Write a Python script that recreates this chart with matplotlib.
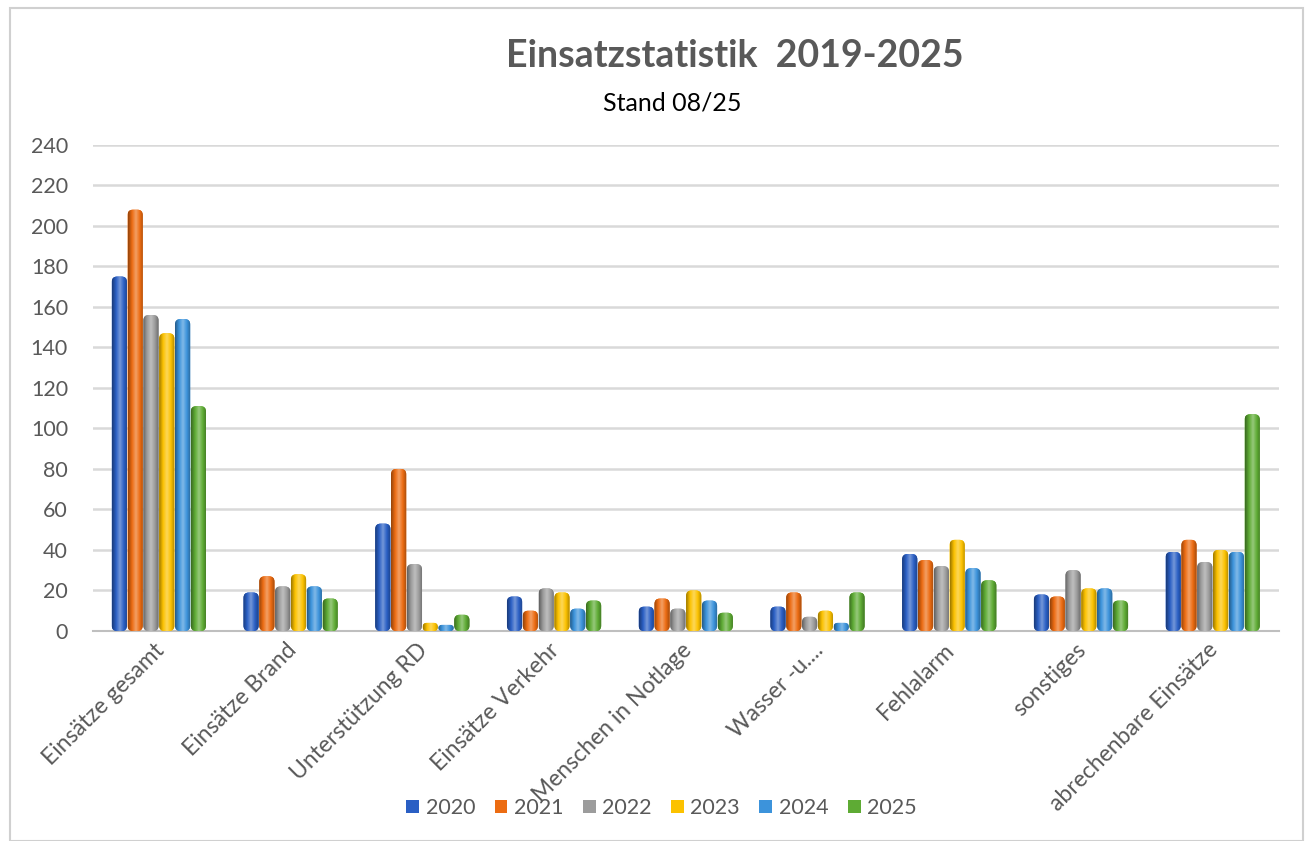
import numpy as np
import matplotlib.pyplot as plt
from matplotlib.colors import LinearSegmentedColormap, to_rgb
from matplotlib.patches import Rectangle, FancyBboxPatch, Patch

categories = ["Einsätze gesamt", "Einsätze Brand", "Unterstützung RD", "Einsätze Verkehr",
              "Menschen in Notlage", "Wasser -u....", "Fehlalarm", "sonstiges",
              "abrechenbare Einsätze"]
years = ["2020", "2021", "2022", "2023", "2024", "2025"]
v2020 = [175, 19, 53, 17, 12, 12, 38, 18, 39]
v2021 = [208, 27, 80, 10, 16, 19, 35, 17, 45]
v2022 = [156, 22, 33, 21, 11, 7, 32, 30, 34]
v2023 = [147, 28, 4, 19, 20, 10, 45, 21, 40]
v2024 = [154, 22, 3, 11, 15, 4, 31, 21, 39]
v2025 = [111, 16, 8, 15, 9, 19, 25, 15, 107]
series = [v2020, v2021, v2022, v2023, v2024, v2025]
colors = ["#2a5fc4", "#ec6c12", "#9c9c9c", "#fcc200", "#3c93db", "#5eab34"]

plt.rcParams['font.family'] = ['Lato', 'DejaVu Sans']

fig = plt.figure(figsize=(13.1, 8.41), dpi=100)
fig.patches.append(Rectangle((10 / 1310, 0), 1293 / 1310, 833 / 841, transform=fig.transFigure,
                             fill=False, edgecolor="#d0d0d0", linewidth=1.5))
ax = fig.add_axes([0.071, 0.2497, 0.905, 0.578])
ax.set_xlim(-0.5, len(categories) - 0.5)
ax.set_ylim(0, 240)

# ratio of y data units to x data units per pixel, for round bar tops
aspect = (240 / 486) / (9 / 1185)

x = np.arange(len(categories))
w = 0.12
grad = np.linspace(0, 1, 64).reshape(1, -1)
for i, (vals, c) in enumerate(zip(series, colors)):
    bars = ax.bar(x + (i - 2.5) * w, vals, width=w * 0.96, color=c, zorder=3)
    base = np.array(to_rgb(c))
    dark = base * 0.62
    light = np.clip(base + (1 - base) * 0.35, 0, 1)
    cmap = LinearSegmentedColormap.from_list("cyl", [dark, base, light, base, dark * 1.1])
    for b in bars:
        b.set_visible(False)
        bw, bh = b.get_width(), b.get_height()
        r = min(bw * 0.35, bh / aspect / 2)
        cyl = FancyBboxPatch((b.get_x(), 0), bw, bh, boxstyle=f"round,pad=0,rounding_size={r}",
                             mutation_aspect=aspect, facecolor=c, edgecolor='none', zorder=3)
        ax.add_patch(cyl)
        im = ax.imshow(grad, cmap=cmap, aspect='auto', zorder=4,
                       extent=(b.get_x(), b.get_x() + bw, 0, bh))
        im.set_clip_path(cyl)

ax.set_xlim(-0.5, len(categories) - 0.5)
ax.set_ylim(0, 240)
ax.set_yticks(np.arange(0, 241, 20))
ax.yaxis.grid(True, color="#d9d9d9", linewidth=1.8, zorder=0)
ax.set_axisbelow(True)
for s in ["top", "right", "left"]:
    ax.spines[s].set_visible(False)
ax.spines["bottom"].set_color("#bfbfbf")
ax.spines["bottom"].set_linewidth(1.5)
ax.tick_params(axis='y', length=0, labelsize=15.5, labelcolor="#595959", pad=18)
ax.tick_params(axis='x', length=0, labelsize=16.5, labelcolor="#595959", pad=6)
ax.set_xticks(x - 0.04)
ax.set_xticklabels(categories, rotation=45, ha='right', va='top', rotation_mode='anchor')

fig.text(0.561, 0.934, "Einsatzstatistik  2019-2025", ha='center', va='center',
         fontsize=27, fontweight='bold', color="#595959")
fig.text(0.513, 0.877, "Stand 08/25", ha='center', va='center', fontsize=18, color="black")

handles = [Patch(facecolor=c, label=y) for c, y in zip(colors, years)]
fig.legend(handles=handles, loc='center', bbox_to_anchor=(0.505, 0.039), ncol=6, frameon=False,
           fontsize=15.5, handlelength=0.6, handleheight=0.6, columnspacing=0.9,
           handletextpad=0.3, labelcolor="#595959")

plt.savefig("out.png", dpi=100)
